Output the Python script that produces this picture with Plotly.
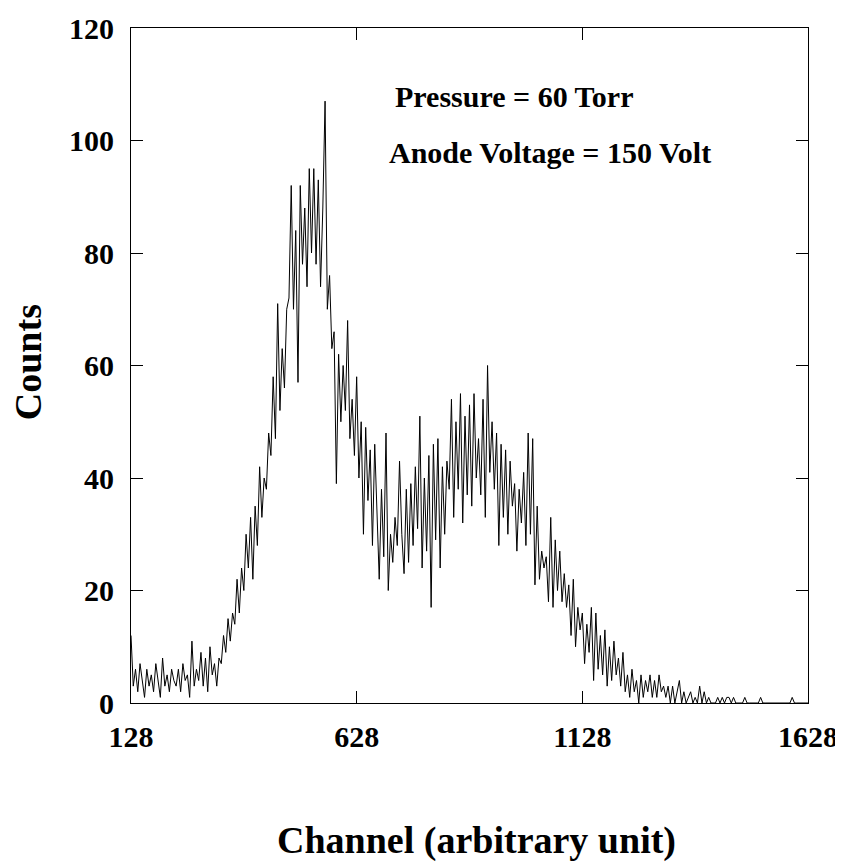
import plotly.graph_objects as go

# Channel numbers (step 5) and counts
channel_start = 128
channel_step = 5
counts = [
    12, 3, 6, 2, 7, 4, 1, 6, 3, 5,
    2, 7, 4, 1, 8, 3, 5, 2, 6, 4,
    3, 6, 2, 7, 4, 5, 1, 11, 3, 6,
    4, 9, 3, 8, 2, 10, 5, 7, 3, 8,
    7, 12, 9, 15, 11, 16, 14, 22, 16, 24,
    20, 30, 24, 33, 22, 35, 28, 42, 33, 40,
    38, 48, 44, 58, 47, 71, 52, 63, 56, 70,
    72, 92, 70, 84, 57, 92, 78, 88, 74, 95,
    80, 95, 78, 93, 74, 88, 107, 70, 76, 63,
    66, 39, 62, 50, 60, 52, 68, 47, 54, 44,
    58, 40, 50, 30, 49, 36, 45, 28, 46, 33,
    22, 38, 26, 48, 20, 30, 25, 33, 28, 43,
    30, 23, 38, 25, 39, 28, 42, 31, 51, 24,
    40, 27, 44, 17, 46, 29, 47, 24, 42, 30,
    43, 38, 54, 33, 50, 38, 55, 32, 51, 37,
    53, 35, 55, 40, 47, 37, 54, 33, 60, 41,
    50, 38, 48, 28, 46, 33, 45, 30, 43, 35,
    39, 27, 38, 32, 41, 28, 48, 30, 47, 21,
    35, 22, 27, 24, 26, 18, 33, 17, 29, 20,
    27, 18, 23, 17, 21, 12, 22, 10, 17, 13,
    16, 7, 14, 9, 17, 4, 16, 6, 12, 5,
    13, 3, 10, 4, 11, 5, 8, 3, 9, 2,
    5, 1, 6, 2, 4, 0, 5, 1, 4, 2,
    5, 1, 4, 1, 5, 2, 3, 1, 3, 0,
    3, 0, 2, 4, 0, 2, 0, 1, 2, 0,
    1, 0, 3, 0, 2, 0, 1, 0, 0, 0,
    1, 0, 1, 0, 1, 1, 0, 1, 0, 0,
    0, 0, 1, 0, 0, 0, 0, 0, 0, 1,
    0, 0, 0, 0, 0, 0, 0, 0, 0, 0,
    0, 0, 0, 1, 0, 0, 0, 0, 0, 0, 0,
]
channels = [channel_start + channel_step * i for i in range(len(counts))]

x_ticks = [128, 628, 1128, 1628]
y_ticks = [0, 20, 40, 60, 80, 100, 120]
info_lines = ["Pressure = 60 Torr", "Anode Voltage = 150 Volt"]
x_title = "Channel (arbitrary unit)"
y_title = "Counts"

FONT = "Liberation Serif, Times New Roman, serif"

fig = go.Figure()
fig.add_trace(go.Scatter(
    x=channels, y=counts, mode="lines",
    line=dict(color="black", width=1),
    hoverinfo="x+y", showlegend=False,
))

axis_common = dict(
    showgrid=False, zeroline=False, showline=True, linecolor="black",
    linewidth=1, mirror="ticks", ticks="inside", ticklen=12,
    tickcolor="black", tickwidth=1, automargin=False,
    tickfont=dict(family=FONT, size=30, color="black", weight="bold"),
)

text_font = dict(family=FONT, size=30, color="black", weight="bold")
title_font = dict(family=FONT, size=38, color="black", weight="bold")

fig.update_layout(
    width=835, height=855,
    margin=dict(l=123, r=35, t=20, b=160),
    paper_bgcolor="white", plot_bgcolor="white",
    xaxis=dict(
        range=[128, 1628], tickvals=x_ticks, ticktext=[str(v) for v in x_ticks],
        ticklabelstandoff=7, **axis_common,
    ),
    yaxis=dict(
        range=[0, 120], tickvals=y_ticks, ticktext=[str(v) for v in y_ticks],
        ticklabelstandoff=10, **axis_common,
    ),
    annotations=[
        dict(text=info_lines[0], x=0.387, y=0.898, xref="paper", yref="paper",
             xanchor="left", yanchor="middle", showarrow=False, font=text_font),
        dict(text=info_lines[1], x=0.378, y=0.815, xref="paper", yref="paper",
             xanchor="left", yanchor="middle", showarrow=False, font=text_font),
        dict(text=x_title, x=0.511, y=-0.203, xref="paper", yref="paper",
             xanchor="center", yanchor="middle", showarrow=False, font=title_font),
        dict(text=y_title, x=-0.152, y=0.505, xref="paper", yref="paper",
             xanchor="center", yanchor="middle", showarrow=False, textangle=-90,
             font=dict(family=FONT, size=38, color="black", weight="bold")),
    ],
)

fig.write_html("out.html")
